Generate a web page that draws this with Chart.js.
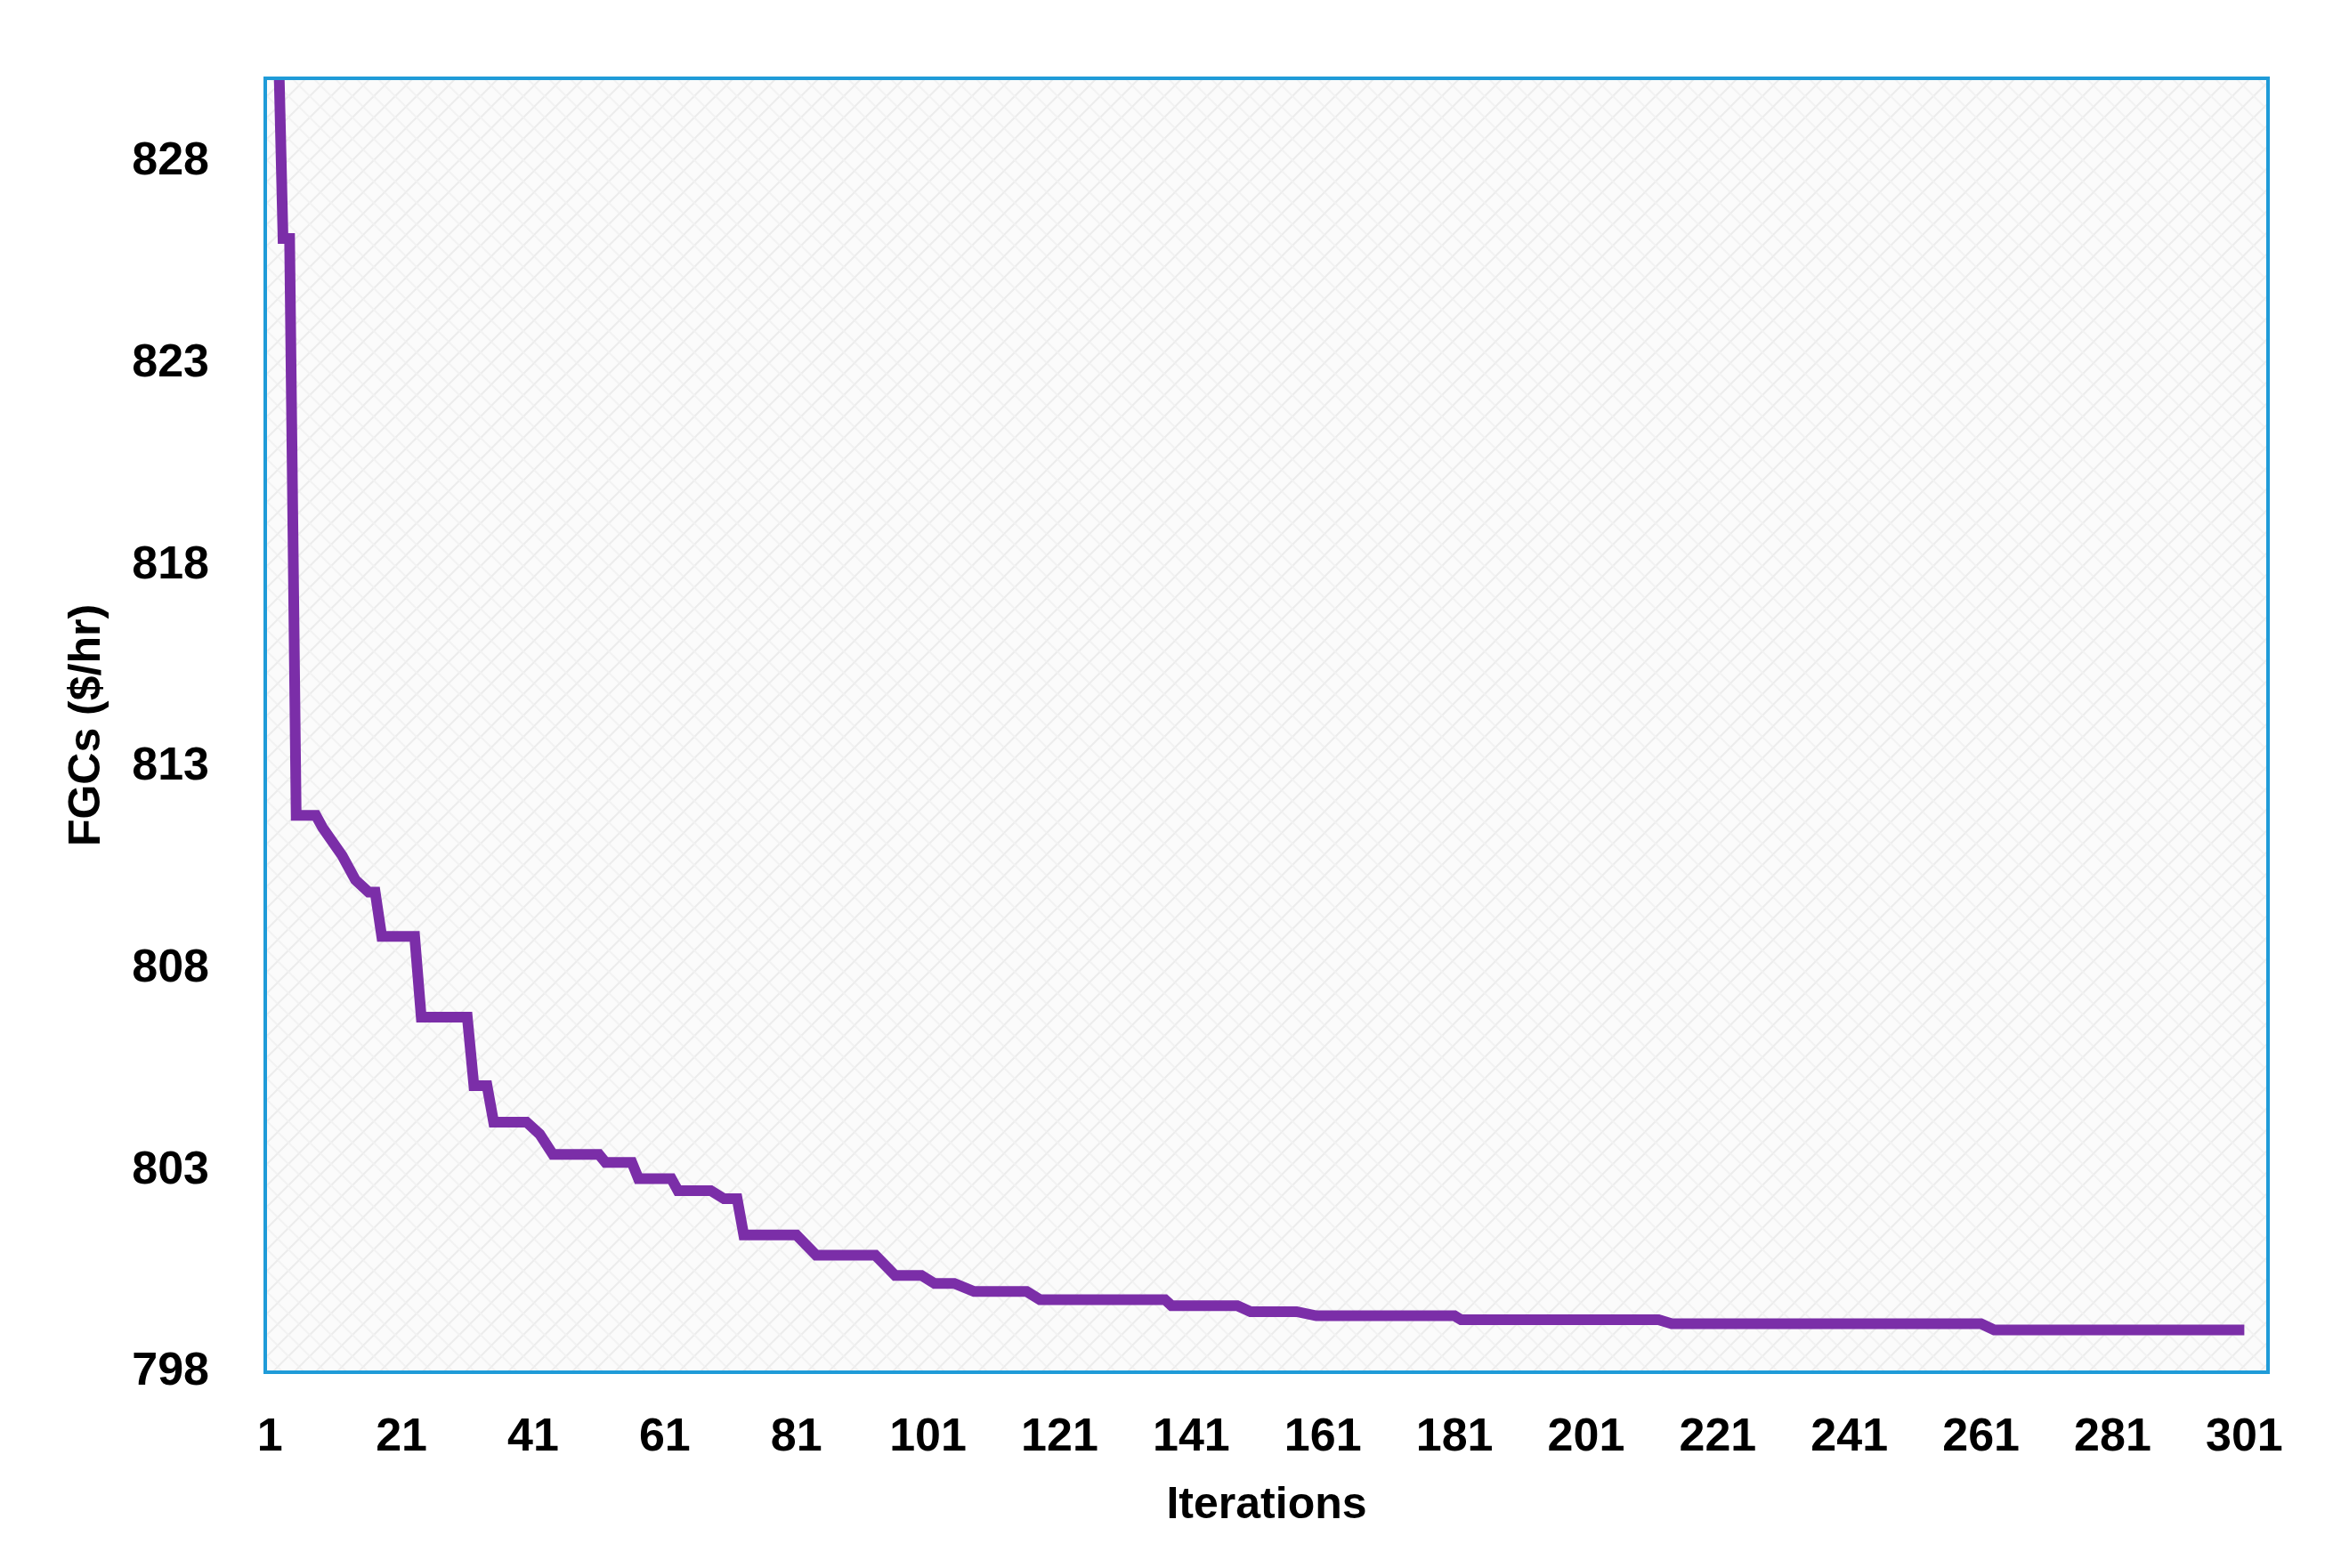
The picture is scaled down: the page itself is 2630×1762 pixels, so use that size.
<!DOCTYPE html>
<html>
<head>
<meta charset="utf-8">
<script src="https://cdn.jsdelivr.net/npm/chart.js@4/dist/chart.umd.min.js"></script>
<style>
  html, body { margin: 0; padding: 0; background: #fff; }
  #wrap { width: 2630px; height: 1762px; }
</style>
</head>
<body>
<div id="wrap"><canvas id="myChart" width="2630" height="1762"></canvas></div>
<script>
// change points of the convergence curve (iteration, cost)
const iters = [1, 2, 3, 4, 5, 8, 9, 12, 14, 16, 17, 18, 23, 24, 31, 32, 34, 35, 40, 42, 44, 51, 52, 56, 57, 62, 63, 68, 70, 72, 73, 81, 84, 93, 96, 100, 102, 105, 108, 116, 118, 137, 138, 148, 150, 157, 160, 181, 182, 212, 214, 261, 263, 301];
const costs = [838, 833, 826.1, 826.1, 811.8, 811.8, 811.5, 810.8, 810.2, 809.9, 809.9, 808.8, 808.8, 806.8, 806.8, 805.1, 805.1, 804.2, 804.2, 803.9, 803.4, 803.4, 803.2, 803.2, 802.8, 802.8, 802.5, 802.5, 802.3, 802.3, 801.4, 801.4, 800.9, 800.9, 800.4, 800.4, 800.2, 800.2, 800.0, 800.0, 799.8, 799.8, 799.65, 799.65, 799.5, 799.5, 799.4, 799.4, 799.3, 799.3, 799.2, 799.2, 799.05, 799.05];
const xTicks = [1, 21, 41, 61, 81, 101, 121, 141, 161, 181, 201, 221, 241, 261, 281, 301];
const yTicks = [798, 803, 808, 813, 818, 823, 828];

const points = iters.map((x, i) => ({ x: x, y: costs[i] }));

function hatch() {
  const c = document.createElement("canvas");
  c.width = 24; c.height = 24;
  const g = c.getContext("2d");
  g.fillStyle = "#fbfbfb";
  g.fillRect(0, 0, 24, 24);
  g.strokeStyle = "#ececec";
  g.lineWidth = 2;
  g.beginPath();
  g.moveTo(0, 24); g.lineTo(24, 0);
  g.moveTo(-12, 12); g.lineTo(12, -12);
  g.moveTo(12, 36); g.lineTo(36, 12);
  g.stroke();
  g.strokeStyle = "#f2f2f2";
  g.beginPath();
  g.moveTo(0, 0); g.lineTo(24, 24);
  g.stroke();
  return g.createPattern(c, "repeat");
}

const frame = {
  id: "frame",
  beforeDatasetsDraw(chart) {
    const a = chart.chartArea, ctx = chart.ctx;
    ctx.save();
    ctx.fillStyle = hatch();
    ctx.fillRect(a.left, a.top, a.right - a.left, a.bottom - a.top);
    ctx.restore();
  },
  afterDraw(chart) {
    const a = chart.chartArea, ctx = chart.ctx;
    ctx.save();
    ctx.strokeStyle = "#1f9bd8";
    ctx.lineWidth = 4;
    ctx.strokeRect(a.left, a.top, a.right - a.left, a.bottom - a.top);
    ctx.restore();
  }
};

const tickFont = { family: "Liberation Sans", weight: "bold", size: 52 };

new Chart(document.getElementById("myChart").getContext("2d"), {
  type: "line",
  data: {
    datasets: [{
      data: points,
      borderColor: "#7b2ea8",
      borderWidth: 12,
      pointRadius: 0,
      tension: 0,
      fill: false
    }]
  },
  options: {
    responsive: false,
    animation: false,
    layout: { padding: { top: 88, right: 82, left: 0, bottom: 0 } },
    plugins: { legend: { display: false }, tooltip: { enabled: false } },
    scales: {
      x: {
        type: "linear",
        min: 0.3,
        max: 304.6,
        afterBuildTicks(s) { s.ticks = xTicks.map(v => ({ value: v })); },
        afterFit(s) { s.height = 220; },
        grid: { display: false },
        border: { display: false },
        ticks: { color: "#000", font: tickFont, padding: 34, maxRotation: 0, autoSkip: false },
        title: { display: true, text: "Iterations", color: "#000", font: { family: "Liberation Sans", weight: "bold", size: 50 }, padding: { top: 0, bottom: 40 } }
      },
      y: {
        min: 798,
        max: 830.07,
        afterBuildTicks(s) { s.ticks = yTicks.map(v => ({ value: v })); },
        afterFit(s) { s.width = 298; },
        grid: { display: false },
        border: { display: false },
        ticks: { color: "#000", font: tickFont, padding: 55 },
        title: { display: true, text: "FGCs ($/hr)", color: "#000", font: { family: "Liberation Sans", weight: "bold", size: 50 }, padding: { top: 68, bottom: 0 } }
      }
    }
  },
  plugins: [frame]
});
</script>
</body>
</html>
